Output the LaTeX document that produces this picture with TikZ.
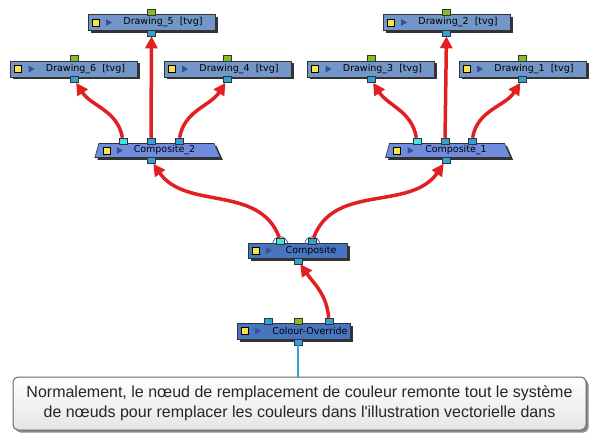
\documentclass[tikz,border=0pt]{standalone}
\usepackage{fontspec}
\setmainfont{Liberation Sans}
\newfontfamily\labelfont{DejaVu Sans}
\usetikzlibrary{positioning,shapes.geometric,shadows,arrows.meta}

\definecolor{drawfill}{RGB}{114,150,200}
\definecolor{trapfill}{RGB}{112,140,222}
\definecolor{compfill}{RGB}{72,116,192}
\definecolor{linkred}{RGB}{226,32,36}
\definecolor{portblue}{RGB}{51,160,214}
\definecolor{portcyan}{RGB}{64,226,226}
\definecolor{portgreen}{RGB}{128,192,32}
\definecolor{iconyellow}{RGB}{250,228,64}
\definecolor{playblue}{RGB}{60,76,150}

\tikzset{
  icons/.style={path picture={
      \filldraw[fill=iconyellow,draw=black,line width=0.6pt]
        ([xshift=#1pt,yshift=-3.5pt]path picture bounding box.west) rectangle ++(7,7);
      \fill[playblue] ([xshift=#1pt+14pt,yshift=-3.5pt]path picture bounding box.west)
        -- ++(6,3.5) -- ++(-6,3.5) -- cycle;}},
  nodebox/.style={draw=black!80, line width=0.6pt, inner sep=0pt, minimum height=16pt,
    font=\labelfont\fontsize{9.5}{11}\selectfont,
    drop shadow={shadow xshift=2.5pt,shadow yshift=-2.5pt,fill=black!80,opacity=1}},
  drawing/.style={nodebox, fill=drawfill, minimum width=127pt, icons=4},
  composite/.style={nodebox, fill=compfill, icons=4},
  merge/.style={nodebox, trapezium, trapezium stretches=true, trapezium left angle=74,
    trapezium right angle=66, fill=trapfill, minimum width=126pt, minimum height=14pt, icons=8},
  port/.style={draw=black!80, line width=0.5pt, inner sep=0pt, minimum width=8pt,
    minimum height=6pt, fill=portblue},
  link/.style={draw=linkred, line width=3.5pt, -{Triangle[width=12pt,length=12pt]}},
  hook/.style={draw=playblue, line width=0.7pt},
  note/.style={draw=black!60, line width=1pt, rounded corners=5pt, top color=white,
    bottom color=black!10, minimum width=573pt, minimum height=53pt, align=center,
    font=\fontsize{16}{20}\selectfont, text=black!85,
    drop shadow={shadow xshift=2.5pt,shadow yshift=-2.5pt,fill=black!45,opacity=1}}
}

\begin{document}
\begin{tikzpicture}[x=1pt,y=1pt]
  \useasboundingbox (0,0) rectangle (598,-444);
  % drawings
  \node[drawing] (d5) at (151.5,-22.5) {\hspace*{23pt}Drawing\_5\ \ [tvg]};
  \node[drawing] (d2) at (446.5,-22.5) {\hspace*{23pt}Drawing\_2\ \ [tvg]};
  \node[drawing] (d6) at (74,-69) {\hspace*{23pt}Drawing\_6\ \ [tvg]};
  \node[drawing] (d4) at (227.5,-69) {\hspace*{23pt}Drawing\_4\ \ [tvg]};
  \node[drawing] (d3) at (371,-69) {\hspace*{23pt}Drawing\_3\ \ [tvg]};
  \node[drawing] (d1) at (522.5,-69) {\hspace*{23pt}Drawing\_1\ \ [tvg]};
  \foreach \d in {d5,d2,d6,d4,d3,d1}{
    \node[port,fill=portgreen,above=-1pt of \d] (\d-in) {};
    \node[port,below=-1pt of \d] (\d-out) {};
  }
  % composites
  \node[merge] (c2) at (156.5,-150.5) {\hspace*{16pt}Composite\_2};
  \node[merge] (c1) at (447,-150.5) {\hspace*{18pt}Composite\_1};
  \node[composite,minimum width=99pt,minimum height=15pt] (cm) at (297.5,-250.5) {\hspace*{27pt}Composite};
  \node[composite,minimum width=113pt] (co) at (293.5,-331) {\hspace*{33pt}Colour-Override};
  \node[port,fill=portcyan] (c2-in1) at (123,-141) {};
  \node[port] (c2-in2) at (151,-141) {};
  \node[port] (c2-in3) at (179,-141) {};
  \node[port] (c2-out) at (151,-160.5) {};
  \node[port,fill=portcyan] (c1-in1) at (417,-141) {};
  \node[port] (c1-in2) at (445,-141) {};
  \node[port] (c1-in3) at (472,-141) {};
  \node[port] (c1-out) at (446,-160.5) {};
  \node[port,fill=portcyan] (cm-in1) at (280.5,-241) {};
  \node[port] (cm-in2) at (312.5,-241) {};
  \node[port] (cm-out) at (298,-261) {};
  \node[port] (co-in1) at (268,-321) {};
  \node[port,fill=portgreen] (co-in2) at (298,-321) {};
  \node[port] (co-in3) at (329,-321) {};
  \node[port] (co-out) at (298,-342) {};
  \draw[hook] ([xshift=-3.5pt]cm-in1.south west) arc (180:0:7.5pt);
  \draw[hook] ([xshift=-3.5pt]cm-in2.south west) arc (180:0:7.5pt);
  % links
  \draw[link] (c2-in1) to[out=100,in=-57] (d6-out);
  \draw[link] (c2-in2) -- (d5-out);
  \draw[link] (c2-in3) to[out=80,in=-123] (d4-out);
  \draw[link] (c1-in1) to[out=100,in=-57] (d3-out);
  \draw[link] (c1-in2) -- (d2-out);
  \draw[link] (c1-in3) to[out=80,in=-123] (d1-out);
  \draw[link] (cm-in1) to[out=110,in=-55] (c2-out);
  \draw[link] (cm-in2) to[out=70,in=-125] (c1-out);
  \draw[link] (co-in3) to[out=95,in=-55] (cm-out);
  % note
  \node[note] (note) at (299.5,-403.5) {Normalement, le n\oe ud de remplacement de couleur remonte tout le système\\de n\oe uds pour remplacer les couleurs dans l\textquotesingle illustration vectorielle dans};
  \draw[portblue,line width=1.5pt] (co-out) -- (co-out |- note.north);
\end{tikzpicture}
\end{document}
